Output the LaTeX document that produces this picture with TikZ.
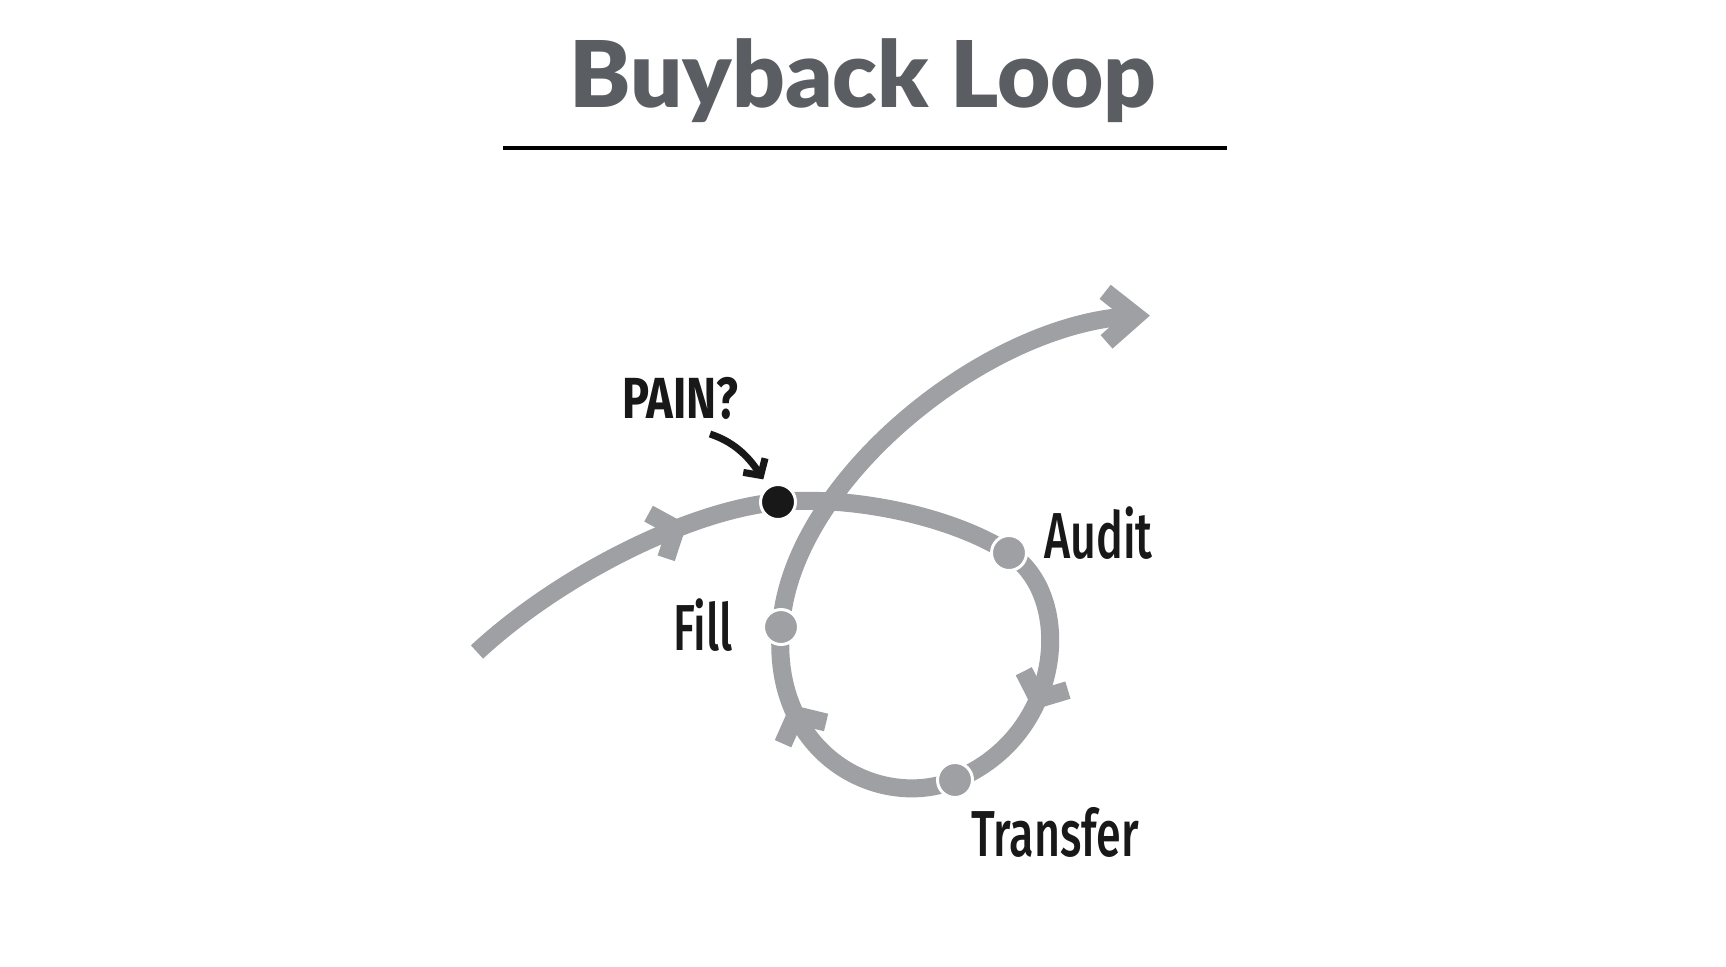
\documentclass[tikz,border=0pt]{standalone}
\usepackage{fontspec}
\setmainfont{Lato}
\newfontfamily\titlefont[UprightFont=* Black]{Lato}
\newfontfamily\condfont[FakeStretch=0.69,UprightFont=* Medium]{Fira Sans}
\newfontfamily\condheavy[FakeStretch=0.78,UprightFont=* Bold]{Fira Sans}
\usetikzlibrary{arrows.meta,decorations.markings}

\begin{document}
\begin{tikzpicture}[x=0.5pt,y=-0.5pt,line cap=butt,line join=miter,
  track/.style={draw=trackgray,line width=9pt},
  chev/.style={track,line join=miter},
  marks/.style={postaction={decorate,decoration={markings,
    mark=at position 0.143 with {\draw[chev] (-20,24) -- (0,0) -- (-20,-24);},
    mark=at position 0.451 with {\draw[chev] (-20,24) -- (0,0) -- (-20,-24);},
    mark=at position 0.638 with {\draw[chev] (-20,24) -- (0,0) -- (-20,-24);},
    mark=at position 0.9999 with {\draw[chev] (-30,25) -- (0,0) -- (-30,-25);}}}},
  stop/.style={circle,inner sep=0pt,minimum size=17.5pt,draw=white,line width=1.5pt,fill=trackgray},
  painstop/.style={stop,fill=ink},
  lbl/.style={font=\condfont\fontsize{32.5}{34}\selectfont,text=ink,inner sep=0pt,anchor=base west},
  pointer/.style={draw=ink,line width=3.5pt,-{Straight Barb[length=6pt,width=13pt]}}]
  \definecolor{trackgray}{RGB}{158,160,163}
  \definecolor{ink}{RGB}{24,24,24}
  \definecolor{titlegray}{RGB}{90,93,98}

  \useasboundingbox (0,0) rectangle (1726,966);

  % ---- title ----
  \node[font=\titlefont\fontsize{46}{50}\selectfont,text=titlegray,inner sep=0pt,anchor=base]
    (title) at (863,107) {Buyback Loop};
  \draw[line width=2pt,black] (503,147.5) -- (1227,147.5);

  % ---- track ----
  \coordinate (start) at (477,652);
  \coordinate (pPain) at (778,502);
  \coordinate (pAudit) at (1009,553);
  \coordinate (pTransfer) at (955,780);
  \coordinate (pFill) at (781,627);
  \coordinate (exit) at (1136,316);
  \draw[track,marks] (start) .. controls (560,575) and (690,510) .. (pPain)
    .. controls (850,495.5) and (950,515) .. (pAudit)
    .. controls (1075,595) and (1065,735) .. (pTransfer)
    .. controls (880,811) and (770,755) .. (pFill)
    .. controls (790,480) and (990,320) .. (exit);

  % stops
  \node[painstop] (pain) at (pPain) {};
  \node[stop] (audit) at (pAudit) {};
  \node[stop] (transfer) at (pTransfer) {};
  \node[stop] (fill) at (pFill) {};

  % ---- labels ----
  \node[lbl,font=\condheavy\fontsize{29}{31}\selectfont] (painlbl) at (622,418) {PAIN?};
  \node[lbl] (filllbl) at (673,650) {Fill};
  \node[lbl] (auditlbl) at (1044,558) {Audit};
  \node[lbl] (transferlbl) at (971,856) {Transfer};

  \coordinate (painfrom) at (710,434);
  \draw[pointer,shorten >=4pt] (painfrom) .. controls (738,443) and (752,462) .. (pain);
\end{tikzpicture}
\end{document}
